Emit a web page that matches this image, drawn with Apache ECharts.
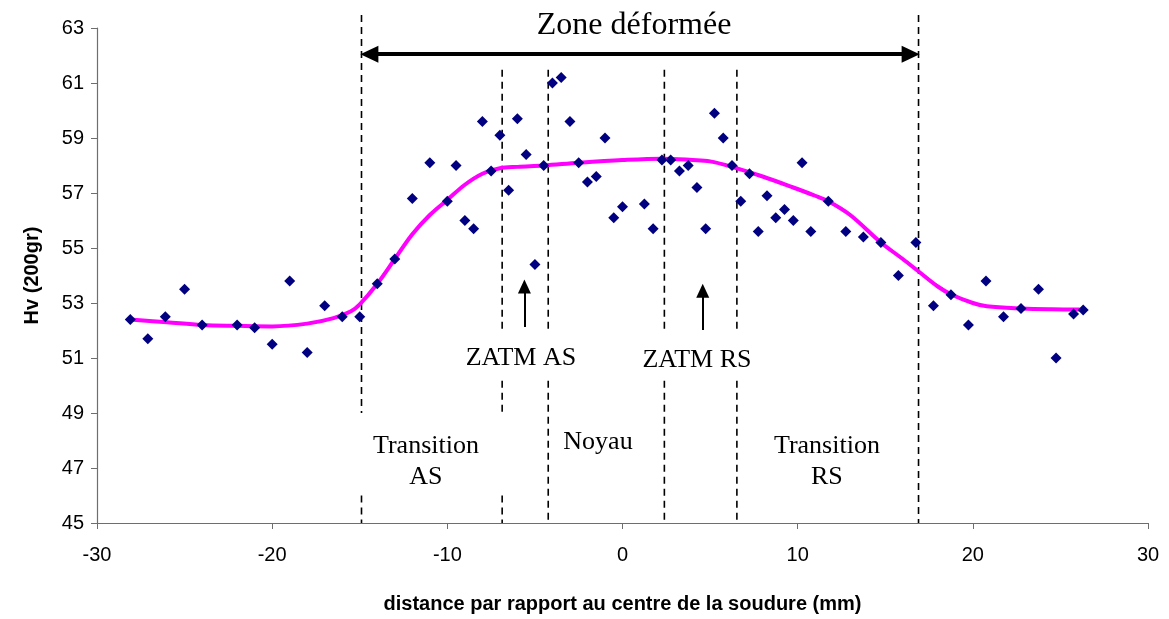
<!DOCTYPE html>
<html>
<head>
<meta charset="utf-8">
<script src="https://cdn.jsdelivr.net/npm/echarts@6/dist/echarts.min.js"></script>
<style>
html,body{margin:0;padding:0;background:#fff;}
#chart{width:1169px;height:619px;}
</style>
</head>
<body>
<div id="chart"></div>
<script>
// ---- Data (distance mm, Hv) ----
const distance = [-28.1,-27.1,-26.1,-25.0,-24.0,-22.0,-21.0,-20.0,-19.0,-18.0,-17.0,-16.0,-15.0,-14.0,-13.0,-12.0,-11.0,-10.0,-9.5,-9.0,-8.5,-8.0,-7.5,-7.0,-6.5,-6.0,-5.5,-5.0,-4.5,-4.0,-3.5,-3.0,-2.5,-2.0,-1.5,-1.0,-0.5,0.0,1.25,1.75,2.25,2.75,3.25,3.75,4.25,4.75,5.25,5.75,6.25,6.75,7.25,7.75,8.25,8.75,9.25,9.75,10.25,10.75,11.75,12.75,13.75,14.75,15.75,16.75,17.75,18.75,19.75,20.75,21.75,22.75,23.75,24.75,25.75,26.3];
const hardness = [52.4,51.7,52.5,53.5,52.2,52.2,52.1,51.5,53.8,51.2,52.9,52.5,52.5,53.7,54.6,56.8,58.1,56.7,58.0,56.0,55.7,59.6,57.8,59.1,57.1,59.7,58.4,54.4,58.0,61.0,61.2,59.6,58.1,57.4,57.6,59.0,56.1,56.5,56.6,55.7,58.2,58.2,57.8,58.0,57.2,55.7,59.9,59.0,58.0,56.7,57.7,55.6,56.9,56.1,56.4,56.0,58.1,55.6,56.7,55.6,55.4,55.2,54.0,55.2,52.9,53.3,52.2,53.8,52.5,52.8,53.5,51.0,52.6,52.75];
// trend curve
const trendX = [-28.1,-26,-24,-22,-20,-18,-16.5,-15.5,-15,-14,-13,-12,-11,-10,-9,-8,-7,-6,-4.5,-2.5,0,2.25,4,5,6.25,8,9.75,11,11.75,13,14.75,16,16.8,18,18.8,20,20.8,22.8,24.5,26.1];
const trendY = [52.4,52.3,52.2,52.17,52.15,52.25,52.45,52.7,52.95,53.7,54.6,55.5,56.2,56.75,57.3,57.7,57.9,57.95,58.0,58.1,58.2,58.25,58.2,58.15,57.95,57.6,57.2,56.9,56.7,56.2,55.2,54.6,54.2,53.6,53.3,53.0,52.88,52.8,52.77,52.76];
// axis ticks
const xTicks = [-30,-20,-10,0,10,20,30];
const yTicks = [45,47,49,51,53,55,57,59,61,63];
// zone boundary lines (x) and their visible segments (y from, y to)
const zoneX = [-14.9, -6.87, -4.24, 2.39, 6.53, 16.9];
const zoneSegs = [
  [[63.47,49.0],[46.0,45]],
  [[61.48,52.06],[50.17,49.05],[46.0,45]],
  [[61.48,52.06],[50.17,45]],
  [[61.48,52.06],[50.17,45]],
  [[61.48,52.06],[50.17,45]],
  [[63.47,45]]
];
// annotation texts [text, x, y, fontSize]
const notes = [
  ['Zone déformée', 0.66, 63.07, 32],
  ['ZATM AS', -5.8, 51.0, 26],
  ['ZATM RS', 4.25, 50.93, 26],
  ['Transition\nAS', -11.22, 47.22, 26],
  ['Noyau', -1.4, 47.95, 26],
  ['Transition\nRS', 11.67, 47.22, 26]
];
// arrows [x1,y1,x2,y2,bothEnds]
const arrows = [
  [-14.45, 62.05, 16.45, 62.05, true],
  [-5.6, 52.13, -5.6, 53.6, false],
  [4.58, 52.02, 4.58, 53.45, false]
];

const chart = echarts.init(document.getElementById('chart'));
const axisCol = '#6e6e6e';
const series = [];
series.push({
  type:'line', name:'trend', data: trendX.map((x,i)=>[x,trendY[i]]),
  smooth:0.35, symbol:'none', lineStyle:{color:'#FF00FF', width:4}, z:3, silent:true
});
zoneX.forEach((x,i)=>{
  zoneSegs[i].forEach(s=>{
    series.push({type:'line', data:[[x,s[0]],[x,s[1]]], symbol:'none', clip:false, silent:true,
      lineStyle:{color:'#000', width:1.6, type:[7,5]}, z:2});
  });
});
series.push({
  type:'line', data:[], silent:true,
  markLine:{
    silent:true, animation:false, label:{show:false},
    data: arrows.map(a=>[
      {coord:[a[0],a[1]], symbol: a[4]?'triangle':'none', symbolSize: a[4]?[17,18]:[13,14], lineStyle:{width: a[4]?4:2}},
      {coord:[a[2],a[3]], symbol:'triangle', symbolSize: a[4]?[17,18]:[13,14]}
    ]),
    lineStyle:{color:'#000', type:'solid'}
  }
});
series.push({
  type:'scatter', name:'Hv', data: distance.map((x,i)=>[x,hardness[i]]),
  symbol:'diamond', symbolSize:11, itemStyle:{color:'#000080', opacity:1}, z:5
});

chart.setOption({
  animation:false,
  backgroundColor:'#fff',
  grid:{left:97, right:21, top:28, bottom:96},
  xAxis:{
    type:'value', min:-30, max:30, interval:10,
    axisLine:{show:true, onZero:false, lineStyle:{color:axisCol, width:1.2}},
    axisTick:{show:true, length:6, lineStyle:{color:axisCol}},
    splitLine:{show:false},
    axisLabel:{margin:22, fontSize:20, color:'#000', fontFamily:'Liberation Sans',
      formatter:v=> xTicks.includes(v)? String(v):''},
    name:'distance par rapport au centre de la soudure (mm)', nameLocation:'middle', nameGap:71,
    nameTextStyle:{fontSize:20, fontWeight:'bold', color:'#000', fontFamily:'Liberation Sans'}
  },
  yAxis:{
    type:'value', min:45, max:63, interval:2,
    axisLine:{show:true, onZero:false, lineStyle:{color:axisCol, width:1.2}},
    axisTick:{show:true, length:6, lineStyle:{color:axisCol}},
    splitLine:{show:false},
    axisLabel:{margin:13, fontSize:20, color:'#000', fontFamily:'Liberation Sans',
      formatter:v=> yTicks.includes(v)? String(v):''},
    name:'Hv (200gr)', nameLocation:'middle', nameGap:55,
    nameTextStyle:{fontSize:20, fontWeight:'bold', color:'#000', fontFamily:'Liberation Sans'}
  },
  series: series
});

const graphics = notes.map(n=>{
  const p = chart.convertToPixel({gridIndex:0}, [n[1], n[2]]);
  return {type:'text', x:p[0], y:p[1], z:100, silent:true,
    style:{text:n[0], fill:'#000', font: n[3]+'px "Liberation Serif"', textAlign:'center', textVerticalAlign:'middle', lineHeight: Math.round(n[3]*1.19)}};
});
chart.setOption({graphic: graphics});
</script>
</body>
</html>
